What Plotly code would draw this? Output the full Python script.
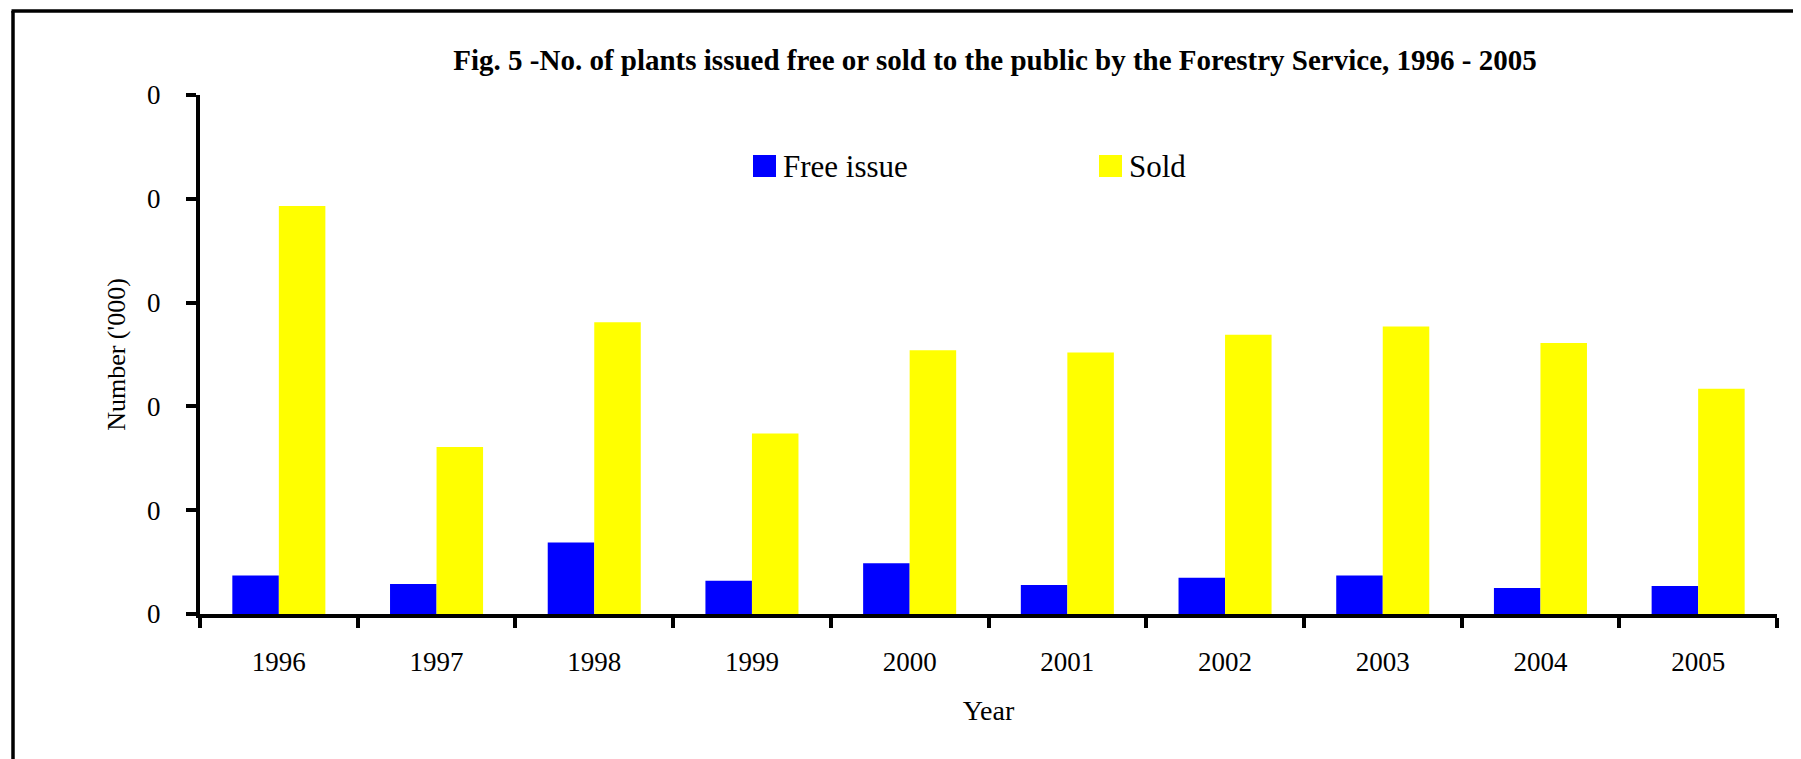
import plotly.graph_objects as go

# ---- data ----
years = ["1996", "1997", "1998", "1999", "2000", "2001", "2002", "2003", "2004", "2005"]
free_issue = [0.037, 0.029, 0.069, 0.032, 0.049, 0.028, 0.035, 0.037, 0.025, 0.027]
sold = [0.393, 0.161, 0.281, 0.174, 0.254, 0.252, 0.269, 0.277, 0.261, 0.217]
y_tick_values = [0.0, 0.1, 0.2, 0.3, 0.4, 0.5]
y_tick_labels = ["0", "0", "0", "0", "0", "0"]
series_names = ["Free issue", "Sold"]
series_colors = ["#0000FF", "#FFFF00"]
title_text = "Fig. 5 -No. of plants issued free or sold to the public by the Forestry Service, 1996 - 2005"
y_title = "Number ('000)"
x_title = "Year"

FONT = "Liberation Serif, Times New Roman, serif"
# the page body has an 8px margin, so the figure is a bit smaller than the window
W, H = 1793, 751
L, R, T, B = 192, 24, 87, 145
PW, PH = W - L - R, H - T - B


def px_x(x):
    return (x - L) / PW


def px_y(y):
    return (H - B - y) / PH


fig = go.Figure()
for name, vals, col in zip(series_names, [free_issue, sold], series_colors):
    fig.add_trace(go.Bar(name=name, x=years, y=vals, marker=dict(color=col, line=dict(width=0)),
                         showlegend=False))

fig.update_layout(
    width=W, height=H,
    margin=dict(l=L, r=R, t=T, b=B, pad=0),
    paper_bgcolor="white", plot_bgcolor="white",
    barmode="group", bargap=0.41, bargroupgap=0,
    font=dict(family=FONT, color="black"),
    title=dict(text=title_text, font=dict(family=FONT, size=29, weight="bold", color="black"),
               x=987 / W, xanchor="center", xref="container",
               y=1 - 52 / H, yanchor="middle", yref="container"),
    xaxis=dict(type="category", showline=True, linewidth=4, linecolor="black",
               ticks="outside", tickson="boundaries", ticklen=10, tickwidth=4, tickcolor="black",
               showgrid=False, zeroline=False,
               tickfont=dict(family=FONT, size=27, color="black"), ticklabelstandoff=21,
               title=dict(text=x_title, font=dict(family=FONT, size=28, color="black"), standoff=25)),
    yaxis=dict(range=[0, 0.5], tickmode="array", tickvals=y_tick_values, ticktext=y_tick_labels,
               showline=True, linewidth=4, linecolor="black",
               ticks="outside", ticklen=10, tickwidth=4, tickcolor="black",
               showgrid=False, zeroline=False,
               tickfont=dict(family=FONT, size=27, color="black"), ticklabelstandoff=20,
               title=dict(text=y_title, font=dict(family=FONT, size=26, color="black"), standoff=15)),
)

# outer frame
fig.add_shape(type="line", xref="paper", yref="paper", x0=px_x(5), x1=px_x(5), y0=-0.5, y1=px_y(3),
              line=dict(color="black", width=3.5))
fig.add_shape(type="line", xref="paper", yref="paper", x0=px_x(3.5), x1=px_x(1789), y0=px_y(3), y1=px_y(3),
              line=dict(color="black", width=3.5))
fig.add_shape(type="line", xref="paper", yref="paper", x0=px_x(1789), x1=px_x(1789), y0=-0.5, y1=px_y(3),
              line=dict(color="black", width=2))

# legend (squares + labels)
legend_pos = [745, 1091]
for name, col, lx in zip(series_names, series_colors, legend_pos):
    fig.add_shape(type="rect", xref="paper", yref="paper", x0=px_x(lx), x1=px_x(lx + 23),
                  y0=px_y(169), y1=px_y(147), line=dict(width=0), fillcolor=col)
    fig.add_annotation(text=name, xref="paper", yref="paper", x=px_x(lx + 28), y=px_y(158),
                       xanchor="left", yanchor="middle", showarrow=False,
                       font=dict(family=FONT, size=31, color="black"))

fig.write_html("out.html")
